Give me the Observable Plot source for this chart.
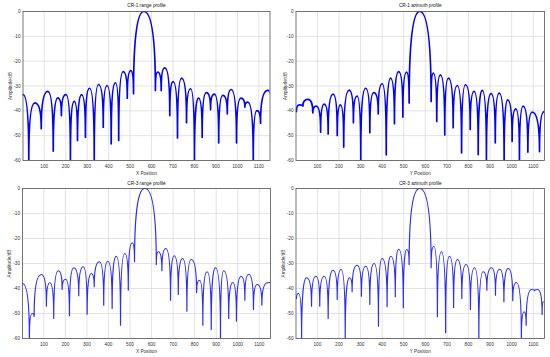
<!DOCTYPE html>
<html>
<head>
<meta charset="utf-8">
<script src="https://cdn.jsdelivr.net/npm/d3@7"></script>
<script src="https://cdn.jsdelivr.net/npm/@observablehq/plot@0.6"></script>
<style>
  html, body { margin: 0; padding: 0; background: #fff; }
  #wrap { position: relative; width: 550px; height: 357px; overflow: hidden; background: #fff; }
  .panel { position: absolute; }
  .panel svg { display: block; }
</style>
</head>
<body>
<div id="wrap"></div>
<script>
// ---- Data ----
const xTicks = [100, 200, 300, 400, 500, 600, 700, 800, 900, 1000, 1100];
const yTicks = [0, -10, -20, -30, -40, -50, -60];

const titles = ["CR-1 range profile", "CR-1 azimuth profile", "CR-3 range profile", "CR-3 azimuth profile"];
const xLabels = ["X Position", "Y Position", "X Position", "Y Position"];
const yLabel = "Amplitude/dB";

// CR-1 range profile (nulls and lobe peaks)
const cr1RangeX = [1,28,56,86,117,142,163,180,201,222,240,255,274,292,311,333,353,375,393,412,432,447,468,487,503,516,564,618,629,645,662,685,701,721,740,763,782,800,819,836,855,875,893,913,932,953,971,996,1016,1035,1049,1074,1091,1108,1142,1152];
const cr1RangeY = [-33.5,-60,-36.8,-47.2,-32.2,-56.2,-34.8,-41.9,-33.5,-60,-36.2,-51.9,-33.5,-50.6,-30.9,-60,-29.4,-46.6,-29.8,-53.3,-28.7,-51.9,-24.2,-34.9,-23.8,-33.1,0,-31.8,-24.4,-31.8,-22.7,-41.9,-28.2,-50.9,-26.8,-44.8,-31.1,-60,-34.9,-50.6,-32.7,-39.5,-33.3,-52.9,-33.8,-41.2,-31.4,-52.9,-34.9,-38.5,-36.5,-60,-39.9,-45,-31.8,-32.7];

// CR-1 azimuth profile
const cr1AzX = [3,17,33,56,79,95,115,132,150,173,192,207,222,247,267,284,301,324,343,361,382,400,419,439,457,477,496,513,525,574,627,637,653,670,690,707,729,748,768,786,808,826,845,864,883,905,924,942,965,981,1002,1019,1036,1053,1075,1095,1129,1150];
const cr1AzY = [-40.3,-37.6,-38.1,-35.4,-40.8,-38.1,-48.6,-37.3,-49.3,-33.3,-49.9,-37.6,-54.6,-31.7,-44.8,-34.1,-60,-30.9,-48.8,-32.7,-41.2,-29.1,-57.7,-26.8,-45.2,-24.2,-42.5,-24.4,-36.8,0,-36.2,-24.8,-44.3,-25.5,-49.7,-26.8,-46.8,-29.8,-56.9,-29.5,-47.5,-32.2,-57.6,-31.8,-60,-33.1,-52.9,-32.9,-60,-35.6,-52.3,-39.2,-60,-38.1,-56.6,-40.5,-56.4,-40.3];

// CR-3 range profile
const cr3RangeX = [1,33,46,55,89,112,128,146,167,185,201,219,239,262,283,301,320,334,358,378,397,417,436,456,476,492,510,521,569,622,631,648,666,688,705,724,744,764,784,809,823,838,858,877,897,920,935,958,977,994,1016,1033,1051,1073,1090,1112,1139,1149];
const cr3RangeY = [-38,-60,-50,-51.2,-34.4,-47.1,-37.7,-52,-32.9,-40.4,-36.3,-50.9,-31.7,-42.9,-31.3,-50.3,-34,-39.3,-29.3,-46.7,-29.1,-48,-27.1,-54.7,-26,-40.7,-21.7,-29.3,0,-30.4,-25.3,-32.9,-24,-44.7,-26.9,-42.4,-28,-49.1,-28.4,-41.7,-36.7,-54.7,-33.3,-56.4,-31.7,-60,-32.9,-52,-37.6,-53.1,-35.1,-44.7,-34.3,-48.4,-38.4,-46.7,-37.7,-37.6];

// CR-3 azimuth profile
const cr3AzX = [3,13,27,50,73,93,111,132,150,172,192,210,229,249,261,284,304,324,343,363,383,400,423,440,461,477,498,514,525,574,627,639,656,675,694,712,731,749,769,789,809,828,848,868,885,907,925,944,964,984,1005,1022,1045,1058,1067,1092,1106,1120,1141,1147];
const cr3AzY = [-44,-42,-60,-35.7,-47.1,-35.1,-47.1,-35.1,-52,-32.7,-44.4,-32.4,-60,-35.7,-41.3,-30.7,-43.1,-31.1,-46.4,-30,-55.1,-28,-47.3,-27.1,-43.3,-24.3,-47.7,-24.4,-30.4,0,-31.7,-23.1,-51.3,-25.3,-57.7,-27.1,-47.6,-28.4,-44,-30.4,-48.4,-31.7,-60,-33.3,-40.7,-31.7,-42.7,-32.3,-45.3,-32,-44.9,-37.6,-60,-49.3,-54.7,-40.4,-40.9,-40.4,-50.4,-45.3];

// ---- Curve: rounded lobe tops, sharp nulls (vertical at the lower point, flat at the higher) ----
function curveLobe(context) {
  let x0, y0, started = false;
  return {
    areaStart() {}, areaEnd() {},
    lineStart() { started = false; },
    lineEnd() {},
    point(x, y) {
      x = +x; y = +y;
      if (!started) { context.moveTo(x, y); started = true; }
      else if (y < y0) context.quadraticCurveTo(x0, y, x, y);
      else context.quadraticCurveTo(x, y0, x, y);
      x0 = x; y0 = y;
    }
  };
}

const FONT = "'Liberation Sans', Arial, Helvetica, sans-serif";
const FS = 4.7;

const panels = [
  {xs: cr1RangeX, ys: cr1RangeY, left: 0, top: 0, w: 275, h: 178, ml: 22.5, mr: 5.5, mt: 11, mb: 18, ydx: -12.5, tdy: -6, stroke: "#0000ff", sw: 1.7},
  {xs: cr1AzX, ys: cr1AzY, left: 275, top: 0, w: 275, h: 178, ml: 20.5, mr: 6, mt: 11, mb: 18, ydx: -11, tdy: -6, stroke: "#0000ff", sw: 1.7},
  {xs: cr3RangeX, ys: cr3RangeY, left: 0, top: 178, w: 275, h: 179, ml: 22, mr: 5, mt: 10, mb: 19, ydx: -12.7, tdy: -5, stroke: "#2b2bff", sw: 1.2},
  {xs: cr3AzX, ys: cr3AzY, left: 275, top: 178, w: 275, h: 179, ml: 20.5, mr: 6, mt: 10, mb: 19, ydx: -13, tdy: -5, stroke: "#2b2bff", sw: 1.2}
];

const wrap = document.getElementById("wrap");
panels.forEach((p, i) => {
  const data = p.xs.map((x, k) => ({x, y: p.ys[k]}));
  const chart = Plot.plot({
    width: p.w,
    height: p.h,
    marginLeft: p.ml,
    marginRight: p.mr,
    marginTop: p.mt,
    marginBottom: p.mb,
    style: {fontFamily: FONT, fontSize: FS + "px", color: "#333", background: "#fff", overflow: "visible"},
    x: {domain: [1, 1152], ticks: xTicks, tickSize: 0, tickPadding: 3.8, tickFormat: d => String(d), label: null},
    y: {domain: [-60, 0], ticks: yTicks, tickSize: 0, tickPadding: 2.5, tickFormat: d => String(d), label: null},
    marks: [
      Plot.ruleX(xTicks, {stroke: "#dcdcdc", strokeWidth: 0.8}),
      Plot.ruleY(yTicks, {stroke: "#dcdcdc", strokeWidth: 0.8}),
      Plot.line(data, {x: "x", y: "y", curve: curveLobe, stroke: p.stroke, strokeWidth: p.sw, clip: true}),
      Plot.frame({stroke: "#555", strokeWidth: 0.8}),
      Plot.text([titles[i]], {frameAnchor: "top", dy: p.tdy, lineAnchor: "middle", textAnchor: "middle", fontSize: FS, fill: "#111"}),
      Plot.text([xLabels[i]], {frameAnchor: "bottom", dy: 13.3, lineAnchor: "middle", textAnchor: "middle", fontSize: FS, fill: "#333"}),
      Plot.text([yLabel], {frameAnchor: "left", dx: p.ydx, rotate: -90, lineAnchor: "middle", textAnchor: "middle", fontSize: FS, fill: "#333"})
    ]
  });
  const div = document.createElement("div");
  div.className = "panel";
  div.style.left = p.left + "px";
  div.style.top = p.top + "px";
  div.appendChild(chart);
  wrap.appendChild(div);
});
</script>
</body>
</html>
